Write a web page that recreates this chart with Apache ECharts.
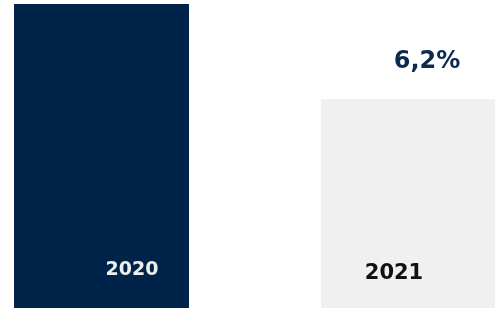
<!DOCTYPE html>
<html>
<head>
<meta charset="utf-8">
<style>html,body{margin:0;padding:0;background:#fff}#c{width:495px;height:311px}</style>
<script src="https://cdn.jsdelivr.net/npm/echarts@6/dist/echarts.min.js"></script>
</head>
<body>
<div id="c"></div>
<script>
var categories = ['2020', '2021'];
var values = [100, 68.75];
var growthLabels = ['', '6,2%'];

var chart = echarts.init(document.getElementById('c'), null, {renderer: 'canvas'});
var font = 'DejaVu Sans, Verdana, sans-serif';
var barColors = ['#00234A', '#F0F0F0'];
var yearLabelStyles = [
  {color: '#EEEEEE', fontSize: 19, offset: [30.5, -28]},
  {color: '#111111', fontSize: 21, offset: [-14.5, -24]}
];
chart.setOption({
  animation: false,
  grid: {left: 101.5, right: 86.5, top: 4, bottom: 3},
  xAxis: {type: 'category', data: categories, boundaryGap: false, show: false},
  yAxis: {type: 'value', min: 0, max: 100, show: false},
  series: [
    {
      type: 'bar',
      barWidth: 175,
      data: values.map(function (v, i) {
        var s = yearLabelStyles[i];
        return {
          value: v,
          itemStyle: {color: barColors[i]},
          label: {
            show: true, position: 'insideBottom', distance: 0,
            formatter: categories[i],
            color: s.color, fontSize: s.fontSize, fontWeight: 'bold', fontFamily: font,
            offset: s.offset
          }
        };
      })
    },
    {
      type: 'bar',
      barWidth: 175,
      barGap: '-100%',
      itemStyle: {color: 'rgba(0,0,0,0)'},
      silent: true,
      data: values,
      label: {
        show: true, position: 'top', distance: 0,
        formatter: function (p) { return growthLabels[p.dataIndex]; },
        color: '#0B2A4F', fontSize: 24, fontWeight: 'bold', fontFamily: font,
        offset: [18.5, -25]
      }
    }
  ]
});
</script>
</body>
</html>
